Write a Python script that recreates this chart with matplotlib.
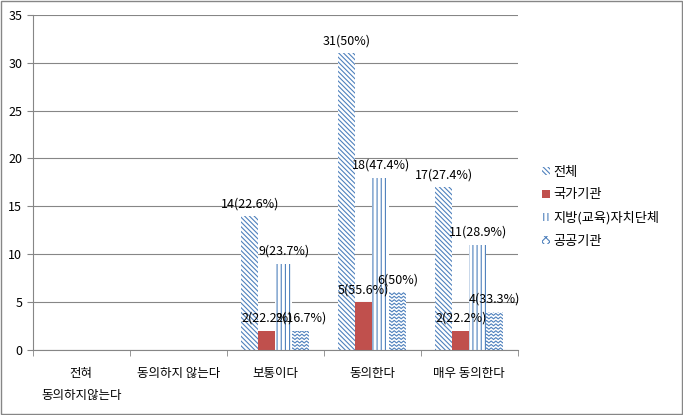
import numpy as np
import matplotlib
matplotlib.use('Agg')
import matplotlib.pyplot as plt
from matplotlib.patches import Patch

plt.rcParams['font.family'] = ['Noto Sans CJK KR', 'DejaVu Sans']
plt.rcParams['hatch.linewidth'] = 0.8

# data
categories = ['전혀\n동의하지않는다', '동의하지 않는다', '보통이다', '동의한다', '매우 동의한다']
series = ['전체', '국가기관', '지방(교육)자치단체', '공공기관']
total = [0, 0, 14, 31, 17]
national = [0, 0, 2, 5, 2]
local = [0, 0, 9, 18, 11]
public = [0, 0, 2, 6, 4]
labels_total = ['', '', '14(22.6%)', '31(50%)', '17(27.4%)']
labels_national = ['', '', '2(22.2%)', '5(55.6%)', '2(22.2%)']
labels_local = ['', '', '9(23.7%)', '18(47.4%)', '11(28.9%)']
labels_public = ['', '', '2(16.7%)', '6(50%)', '4(33.3%)']

blue = '#4F81BD'
red = '#C0504D'
diag = '\\' * 7
vert = '|' * 4

fig = plt.figure(figsize=(6.83, 4.15), dpi=100)
ax = fig.add_axes([0.048, 0.157, 0.71, 0.807])

x = np.arange(len(categories))
w = 0.175
offsets = [-1.5 * w, -0.5 * w, 0.5 * w, 1.5 * w]

b1 = ax.bar(x + offsets[0], total, w, color='white', edgecolor=blue, hatch=diag, linewidth=0)
b2 = ax.bar(x + offsets[1], national, w, color=red, linewidth=0)
b3 = ax.bar(x + offsets[2], local, w, color='white', edgecolor=blue, hatch=vert, linewidth=0)
b4 = ax.bar(x + offsets[3], public, w, color='white', edgecolor='white', linewidth=0)

# wavy fill for 공공기관
for rect in b4:
    h = rect.get_height()
    if h <= 0:
        continue
    x0 = rect.get_x()
    xs = np.linspace(x0 - 0.02, x0 + rect.get_width() + 0.02, 10)
    ys = np.where(np.arange(len(xs)) % 2 == 0, 0.0, 0.2)
    for yb in np.arange(0, h + 0.3, 0.36):
        ln, = ax.plot(xs, ys + yb, color=blue, lw=0.8)
        ln.set_clip_path(rect)

for bars, labs in [(b1, labels_total), (b2, labels_national), (b3, labels_local), (b4, labels_public)]:
    for rect, lab in zip(bars, labs):
        if lab:
            ax.text(rect.get_x() + rect.get_width() / 2, rect.get_height() + 0.6, lab,
                    ha='center', va='bottom', fontsize=9)

ax.set_xlim(-0.5, len(categories) - 0.5)
ax.set_ylim(0, 35)
ax.set_yticks(range(0, 36, 5))
ax.yaxis.grid(True, color='#868686', lw=0.8)
ax.set_axisbelow(True)

ax.set_xticks(x)
ax.set_xticklabels(categories, fontsize=9, linespacing=1.9, va='top')
ax.tick_params(axis='x', length=0, pad=12)
ax.set_xticks(np.arange(-0.5, len(categories), 1), minor=True)
ax.tick_params(axis='x', which='minor', length=4, color='#868686', direction='out')
ax.tick_params(axis='y', length=4, color='#868686', labelsize=9, direction='out')

for s in ['top', 'right']:
    ax.spines[s].set_visible(False)
for s in ['left', 'bottom']:
    ax.spines[s].set_color('#868686')

handles = [Patch(facecolor='white', edgecolor=blue, hatch=diag, lw=0),
           Patch(facecolor=red, lw=0),
           Patch(facecolor='white', edgecolor=blue, hatch=vert, lw=0),
           Patch(facecolor='white', edgecolor=blue, hatch='xxxx', lw=0)]
fig.legend(handles, series, loc='center left', bbox_to_anchor=(0.776, 0.502), frameon=False,
           fontsize=9.5, handlelength=0.6, handleheight=0.6, handletextpad=0.3, labelspacing=0.75)

fig.patches.append(plt.Rectangle((0.001, 0.002), 0.997, 0.996, transform=fig.transFigure,
                                 fill=False, edgecolor='#868686', lw=1))

fig.savefig('out.png', dpi=100)
